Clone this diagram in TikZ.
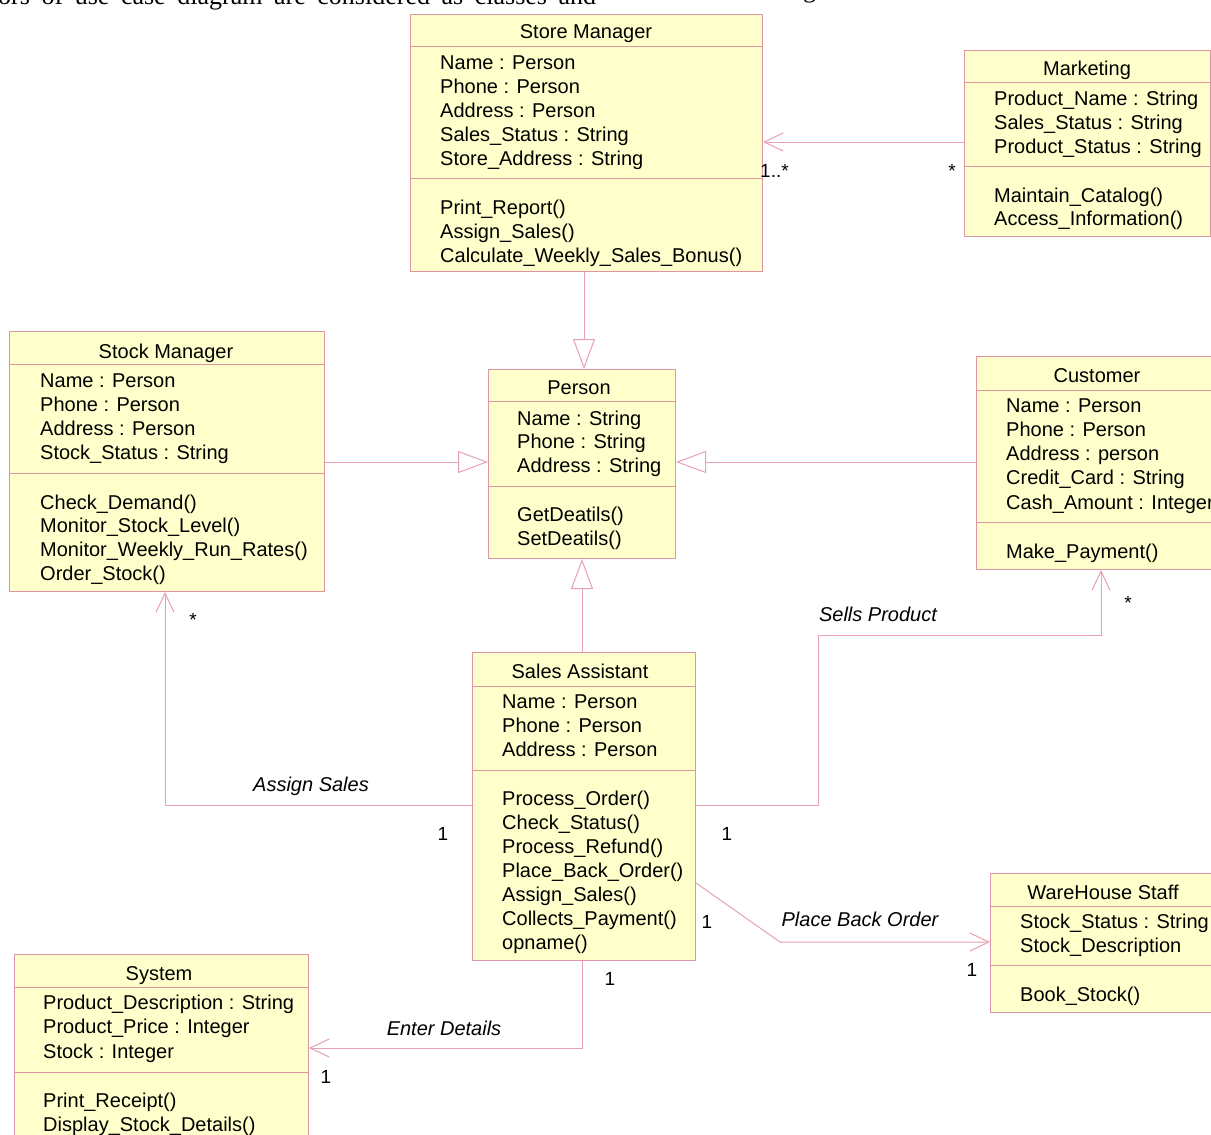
\documentclass[tikz,border=0pt]{standalone}
\usepackage{fontspec}
\setmainfont{Liberation Sans}
\newfontfamily\serifpage{Liberation Serif}
\usetikzlibrary{arrows.meta}
\definecolor{umlfill}{RGB}{255,255,204}
\definecolor{umlline}{RGB}{222,150,165}
\definecolor{linkline}{RGB}{232,160,180}
\begin{document}
\begin{tikzpicture}[x=1pt,y=-1pt,
  clsbox/.style={draw=umlline, fill=umlfill, line width=1pt, inner sep=0, anchor=north west},
  sepline/.style={draw=umlline, line width=1pt},
  txt/.style={inner sep=0, anchor=base west, font=\fontsize{20}{24}\selectfont},
  ttl/.style={inner sep=0, anchor=base, font=\fontsize{20}{24}\selectfont},
  lbl/.style={inner sep=0, anchor=base, font=\fontsize{20}{24}\selectfont\itshape},
  mult/.style={inner sep=0, anchor=base, font=\fontsize{19}{24}\selectfont},
  assoc/.style={draw=linkline, line width=1pt, -{Straight Barb[length=19pt,width=18pt]}},
  gen/.style={draw=linkline, line width=1pt, -{Triangle[open,length=30pt,width=22pt]}},
]
\useasboundingbox (0,0) rectangle (1211,1135);
\fill[white] (0,0) rectangle (1211,1135);

% page text cut at the top
\node[inner sep=0, anchor=base west, font=\serifpage\fontsize{26}{30}\selectfont] (pg1) at (-2,5)
  {\makebox[598pt][s]{ors of use case diagram are considered as classes and}};
\node[inner sep=0, anchor=base west, font=\serifpage\fontsize{26}{30}\selectfont] (pg2) at (803,-2) {g};

% ---------- Store Manager ----------
\node[clsbox, minimum width=352pt, minimum height=257pt] (sm) at (410,14) {};
\draw[sepline] (410,46) -- (762,46);
\draw[sepline] (410,178) -- (762,178);
\node[ttl] (sm-t) at (586,38) {Store Manager};
\foreach \t [count=\i] in {Name : Person, Phone : Person, Address : Person, Sales\_Status : String, Store\_Address : String}
  \node[txt] (sm-a\i) at (440,{69+(\i-1)*24}) {\t};
\foreach \t [count=\i] in {Print\_Report(), Assign\_Sales(), Calculate\_Weekly\_Sales\_Bonus()}
  \node[txt] (sm-m\i) at (440,{214+(\i-1)*24}) {\t};

% ---------- Marketing ----------
\node[clsbox, minimum width=246pt, minimum height=186pt] (mk) at (964,50) {};
\draw[sepline] (964,82) -- (1210,82);
\draw[sepline] (964,166) -- (1210,166);
\node[ttl] (mk-t) at (1087,75) {Marketing};
\foreach \t [count=\i] in {Product\_Name : String, Sales\_Status : String, Product\_Status : String}
  \node[txt] (mk-a\i) at (994,{105+(\i-1)*24}) {\t};
\foreach \t [count=\i] in {Maintain\_Catalog(), Access\_Information()}
  \node[txt] (mk-m\i) at (994,{202+(\i-1)*23.5}) {\t};

% ---------- Person ----------
\node[clsbox, minimum width=187pt, minimum height=189pt] (ps) at (488,369) {};
\draw[sepline] (488,401) -- (675,401);
\draw[sepline] (488,486) -- (675,486);
\node[ttl] (ps-t) at (579,394) {Person};
\foreach \t [count=\i] in {Name : String, Phone : String, Address : String}
  \node[txt] (ps-a\i) at (517,{425+(\i-1)*23.7}) {\t};
\foreach \t [count=\i] in {GetDeatils(), SetDeatils()}
  \node[txt] (ps-m\i) at (517,{521+(\i-1)*24}) {\t};

% ---------- Stock Manager ----------
\node[clsbox, minimum width=315pt, minimum height=260pt] (st) at (9,331) {};
\draw[sepline] (9,364) -- (324,364);
\draw[sepline] (9,473) -- (324,473);
\node[ttl] (st-t) at (166,358) {Stock Manager};
\foreach \t [count=\i] in {Name : Person, Phone : Person, Address : Person, Stock\_Status : String}
  \node[txt] (st-a\i) at (40,{387+(\i-1)*24.3}) {\t};
\foreach \t [count=\i] in {Check\_Demand(), Monitor\_Stock\_Level(), Monitor\_Weekly\_Run\_Rates(), Order\_Stock()}
  \node[txt] (st-m\i) at (40,{509+(\i-1)*23.7}) {\t};

% ---------- Customer ----------
\node[clsbox, minimum width=250pt, minimum height=213pt] (cu) at (976,356) {};
\draw[sepline] (976,390) -- (1226,390);
\draw[sepline] (976,522) -- (1226,522);
\node[ttl] (cu-t) at (1097,382) {Customer};
\foreach \t [count=\i] in {Name : Person, Phone : Person, Address : person, Credit\_Card : String, Cash\_Amount : Integer}
  \node[txt] (cu-a\i) at (1006,{412+(\i-1)*24.25}) {\t};
\node[txt] (cu-m1) at (1006,558) {Make\_Payment()};

% ---------- Sales Assistant ----------
\node[clsbox, minimum width=223pt, minimum height=308pt] (sa) at (472,652) {};
\draw[sepline] (472,686) -- (695,686);
\draw[sepline] (472,770) -- (695,770);
\node[ttl] (sa-t) at (580,678) {Sales Assistant};
\foreach \t [count=\i] in {Name : Person, Phone : Person, Address : Person}
  \node[txt] (sa-a\i) at (502,{708+(\i-1)*24}) {\t};
\foreach \t [count=\i] in {Process\_Order(), Check\_Status(), Process\_Refund(), Place\_Back\_Order(), Assign\_Sales(), Collects\_Payment(), opname()}
  \node[txt] (sa-m\i) at (502,{805+(\i-1)*24}) {\t};

% ---------- WareHouse Staff ----------
\node[clsbox, minimum width=235pt, minimum height=139pt] (wh) at (990,873) {};
\draw[sepline] (990,906) -- (1225,906);
\draw[sepline] (990,965) -- (1225,965);
\node[ttl] (wh-t) at (1103,899) {WareHouse Staff};
\foreach \t [count=\i] in {Stock\_Status : String, Stock\_Description}
  \node[txt] (wh-a\i) at (1020,{928+(\i-1)*24}) {\t};
\node[txt] (wh-m1) at (1020,1001) {Book\_Stock()};

% ---------- System ----------
\node[clsbox, minimum width=294pt, minimum height=200pt] (sy) at (14,954) {};
\draw[sepline] (14,987) -- (308,987);
\draw[sepline] (14,1072) -- (308,1072);
\node[ttl] (sy-t) at (159,980) {System};
\foreach \t [count=\i] in {Product\_Description : String, Product\_Price : Integer, Stock : Integer}
  \node[txt] (sy-a\i) at (43,{1009+(\i-1)*24.5}) {\t};
\foreach \t [count=\i] in {Print\_Receipt(), Display\_Stock\_Details()}
  \node[txt] (sy-m\i) at (43,{1107+(\i-1)*24}) {\t};

% ---------- Connectors ----------
\draw[assoc] (mk.west |- 0,142) -- (sm.east |- 0,142);
\draw[gen] (sm.south -| 584,0) -- (ps.north -| 584,0);
\draw[gen] (st.east |- 0,462) -- (ps.west |- 0,462);
\draw[gen] (cu.west |- 0,462) -- (ps.east |- 0,462);
\draw[gen] (sa.north -| 582,0) -- (ps.south -| 582,0);
\draw[assoc] (sa.west |- 0,805) -| (st.south -| 165,0);
\draw[assoc] (sa.east |- 0,805) -- (818,805) -- (818,635) -| (cu.south -| 1101,0);
\draw[assoc] (sa.east |- 0,883) -- (780,942) -- (wh.west |- 0,942);
\draw[assoc] (sa.south -| 582,0) |- (sy.east |- 0,1048);

% ---------- Labels ----------
\node[mult, anchor=base west] (m1) at (760,177) {1..*};
\node[mult] (m2) at (952,177) {*};
\node[mult] (m3) at (193,626) {*};
\node[mult] (m4) at (1128,609) {*};
\node[mult] (m5) at (443,840) {1};
\node[mult] (m6) at (727,840) {1};
\node[mult] (m7) at (707,928) {1};
\node[mult] (m8) at (972,976) {1};
\node[mult] (m9) at (610,985) {1};
\node[mult] (m10) at (326,1083) {1};
\node[lbl] (l1) at (311,791) {Assign Sales};
\node[lbl] (l2) at (878,621) {Sells Product};
\node[lbl] (l3) at (860,926) {Place Back Order};
\node[lbl] (l4) at (444,1035) {Enter Details};
\end{tikzpicture}
\end{document}
